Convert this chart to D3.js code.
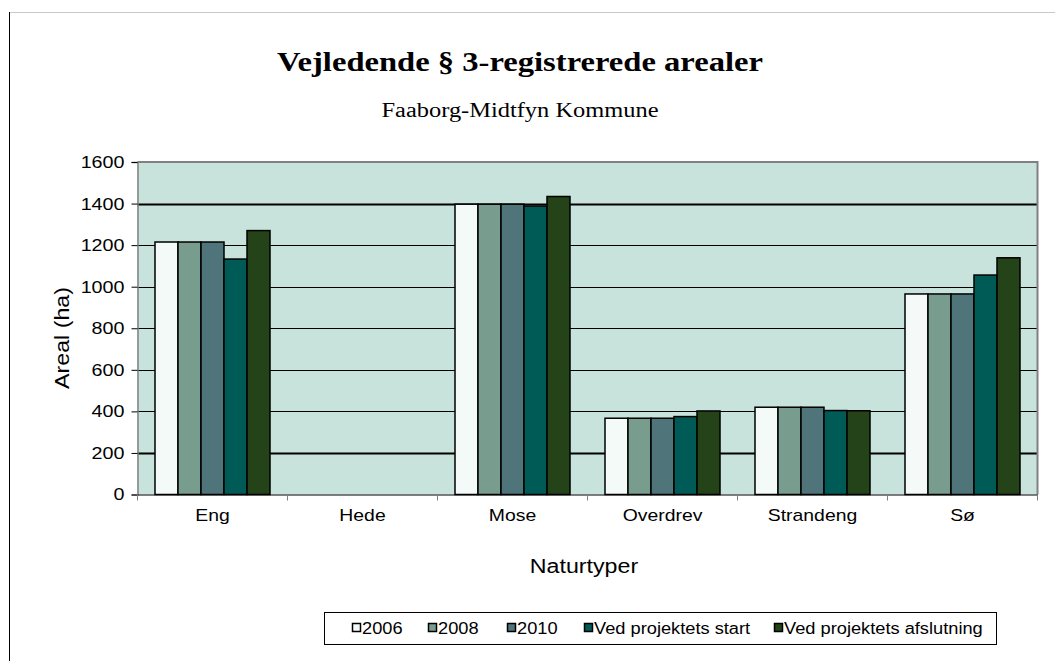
<!DOCTYPE html>
<html>
<head>
<meta charset="utf-8">
<script src="https://cdn.jsdelivr.net/npm/d3@7"></script>
<style>
  body { margin: 0; background: #fff; }
  svg { display: block; }
</style>
</head>
<body>
<svg id="chart" width="1055" height="661"></svg>
<script>
const categories = ["Eng", "Hede", "Mose", "Overdrev", "Strandeng", "Sø"];
const seriesNames = ["2006", "2008", "2010", "Ved projektets start", "Ved projektets afslutning"];
const seriesColors = ["#f3faf7", "#789c8e", "#4f747a", "#005a55", "#254319"];

const values2006 = [1215, 0, 1397, 367, 420, 965];
const values2008 = [1215, 0, 1397, 367, 420, 965];
const values2010 = [1215, 0, 1397, 367, 420, 965];
const valuesStart = [1133, 0, 1388, 375, 404, 1056];
const valuesEnd = [1270, 0, 1434, 402, 403, 1139];
const yTicks = [0, 200, 400, 600, 800, 1000, 1200, 1400, 1600];

const series = [values2006, values2008, values2010, valuesStart, valuesEnd];

const SANS = "'Liberation Sans', Arial, sans-serif";
const SERIF = "'Liberation Serif', 'DejaVu Serif', serif";

const svg = d3.select("#chart");
const W = 1055, H = 661;
const plot = { left: 137.5, top: 162, right: 1037.5, bottom: 494.5 };

// the original text is a bit wider than Arial, stretch it
function stretch(sel, f) {
  sel.each(function () {
    const len = this.getComputedTextLength();
    d3.select(this).attr("textLength", len * f).attr("lengthAdjust", "spacingAndGlyphs");
  });
}

// page frame
svg.append("line").attr("x1", 9).attr("x2", W).attr("y1", 12.5).attr("y2", 12.5)
  .attr("stroke", "#c8c8c8").attr("stroke-width", 1);
svg.append("line").attr("x1", 9.5).attr("x2", 9.5).attr("y1", 12).attr("y2", H)
  .attr("stroke", "#000").attr("stroke-width", 1);

// titles
svg.append("text").attr("x", 520).attr("y", 71).attr("text-anchor", "middle")
  .attr("font-family", SERIF)
  .attr("font-weight", "bold").attr("font-size", 28)
  .attr("textLength", 486).attr("lengthAdjust", "spacingAndGlyphs")
  .text("Vejledende § 3-registrerede arealer");
svg.append("text").attr("x", 520).attr("y", 117).attr("text-anchor", "middle")
  .attr("font-family", SERIF)
  .attr("font-size", 20)
  .attr("textLength", 277).attr("lengthAdjust", "spacingAndGlyphs")
  .text("Faaborg-Midtfyn Kommune");

const x0 = d3.scaleBand().domain(categories).range([plot.left, plot.right]).paddingInner(0).paddingOuter(0);
const x1 = d3.scaleBand().domain(d3.range(series.length)).range([17.5, x0.bandwidth() - 17.5]).padding(0);
const y = d3.scaleLinear().domain([0, 1600]).range([plot.bottom, plot.top]);

// plot background
svg.append("rect").attr("x", plot.left).attr("y", plot.top)
  .attr("width", plot.right - plot.left).attr("height", plot.bottom - plot.top)
  .attr("fill", "#c8e3db");

// gridlines
svg.append("g").selectAll("line")
  .data(yTicks.filter(d => d > 0 && d < 1600))
  .join("line")
  .attr("x1", plot.left).attr("x2", plot.right)
  .attr("y1", d => Math.round(y(d)) + 0.5).attr("y2", d => Math.round(y(d)) + 0.5)
  .attr("stroke", "#000")
  .attr("stroke-width", d => (d === 1400 || d === 200) ? 2 : 1);

// plot border top/right
svg.append("path")
  .attr("d", `M${plot.left},${plot.top}H${plot.right}V${plot.bottom}`)
  .attr("fill", "none").attr("stroke", "#808080").attr("stroke-width", 2);

// bars
const groups = svg.append("g").selectAll("g")
  .data(categories)
  .join("g")
  .attr("transform", d => `translate(${x0(d)},0)`);

groups.selectAll("rect")
  .data((c, ci) => series.map((s, si) => ({ si, v: s[ci] })).filter(d => d.v > 0))
  .join("rect")
  .attr("x", d => x1(d.si))
  .attr("y", d => y(d.v))
  .attr("width", x1.bandwidth())
  .attr("height", d => y(0) - y(d.v))
  .attr("fill", d => seriesColors[d.si])
  .attr("stroke", "#000")
  .attr("stroke-width", 1.5);

// y axis
const yAxis = svg.append("g")
  .attr("transform", `translate(${plot.left},0)`)
  .call(d3.axisLeft(y).tickValues(yTicks).tickSize(6).tickPadding(7).tickFormat(d3.format("d")));
yAxis.select(".domain").attr("stroke", "#808080").attr("stroke-width", 1.5);
yAxis.selectAll(".tick line").attr("stroke", "#000");
yAxis.selectAll("text").attr("font-family", SANS)
  .attr("font-size", 17).attr("fill", "#000").call(stretch, 1.16);

// x axis
const xAxis = svg.append("g")
  .attr("transform", `translate(0,${plot.bottom})`)
  .call(d3.axisBottom(x0).tickSize(0).tickPadding(14));
xAxis.select(".domain").attr("stroke", "#000").attr("stroke-width", 1);
xAxis.selectAll("text").attr("font-family", SANS)
  .attr("font-size", 17).attr("fill", "#000").call(stretch, 1.14);
svg.append("g").selectAll("line")
  .data(d3.range(categories.length + 1))
  .join("line")
  .attr("x1", i => plot.left + i * x0.bandwidth()).attr("x2", i => plot.left + i * x0.bandwidth())
  .attr("y1", plot.bottom).attr("y2", plot.bottom + 6)
  .attr("stroke", "#808080").attr("stroke-width", 1);

// axis titles
svg.append("text")
  .attr("transform", "translate(69,338) rotate(-90)")
  .attr("text-anchor", "middle")
  .attr("font-family", SANS).attr("font-size", 20)
  .text("Areal (ha)").call(stretch, 1.16);
svg.append("text").attr("x", 584).attr("y", 573).attr("text-anchor", "middle")
  .attr("font-family", SANS).attr("font-size", 20)
  .text("Naturtyper").call(stretch, 1.16);

// legend
const legend = svg.append("g");
legend.append("rect").attr("x", 324.5).attr("y", 612.5).attr("width", 672).attr("height", 32)
  .attr("fill", "#fff").attr("stroke", "#000").attr("stroke-width", 1);
const legendX = [352, 428, 507, 584, 774];
const items = legend.selectAll("g.item")
  .data(seriesNames)
  .join("g").attr("class", "item")
  .attr("transform", (d, i) => `translate(${legendX[i]},628)`);
items.append("rect").attr("x", 0.5).attr("y", -4.5).attr("width", 8).attr("height", 8)
  .attr("fill", (d, i) => seriesColors[i]).attr("stroke", "#000").attr("stroke-width", 1.5);
items.append("text").attr("x", 10).attr("y", 6)
  .attr("font-family", SANS).attr("font-size", 16)
  .text(d => d).call(stretch, 1.14);
</script>
</body>
</html>
